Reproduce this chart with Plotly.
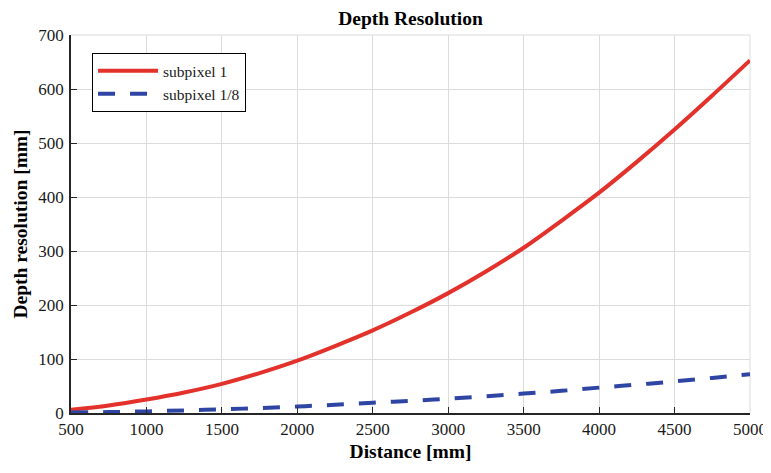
import plotly.graph_objects as go

distance = [500, 750, 1000, 1250, 1500, 1750, 2000, 2250, 2500, 2750, 3000,
            3250, 3500, 3750, 4000, 4250, 4500, 4750, 5000]
subpixel_1 = [6, 14, 25, 38, 54, 74, 97, 124, 153, 186, 222,
              262, 306, 356, 408, 465, 525, 588, 653]
subpixel_1_8 = [0.8, 1.7, 3, 4.8, 6.8, 9.2, 12, 15.3, 19, 22.5, 26.5,
                31, 36, 41, 47, 52.5, 58.5, 65, 72]
x_ticks = [500, 1000, 1500, 2000, 2500, 3000, 3500, 4000, 4500, 5000]
y_ticks = [0, 100, 200, 300, 400, 500, 600, 700]

font = "Liberation Serif, Times New Roman, serif"

fig = go.Figure()
fig.add_trace(go.Scatter(x=distance, y=subpixel_1, mode="lines", name="subpixel 1",
                         line=dict(color="#e3312b", width=4, shape="spline")))
fig.add_trace(go.Scatter(x=distance, y=subpixel_1_8, mode="lines", name="subpixel 1/8",
                         line=dict(color="#2f45a3", width=4, dash="17px,15px", shape="spline")))

fig.update_layout(
    width=763, height=465,
    margin=dict(l=63, r=21, t=27, b=60, autoexpand=False),
    paper_bgcolor="white", plot_bgcolor="white",
    font=dict(family=font, size=17, color="#1a1a1a"),
    title=dict(text="<b>Depth Resolution</b>", x=0.5, xref="paper", xanchor="center",
               yref="container", y=1.0, yanchor="top", pad=dict(t=3, b=0),
               font=dict(size=19.5, color="#000")),
    legend=dict(x=0.031, y=0.952, xanchor="left", yanchor="top",
                bordercolor="#000", borderwidth=1, bgcolor="white",
                font=dict(size=15.5, color="#1a1a1a"), tracegroupgap=0,
                itemwidth=60),
    showlegend=True,
)
fig.update_xaxes(range=[500, 5000], tickvals=x_ticks, ticktext=[str(v) for v in x_ticks],
                 showgrid=True, gridcolor="#dcdcdc", gridwidth=1,
                 showline=True, linecolor="#262626", linewidth=1.5,
                 ticks="inside", ticklen=6, tickcolor="#262626", zeroline=False,
                 automargin=False,
                 title=dict(text="<b>Distance [mm]</b>", standoff=6, font=dict(size=19.5, color="#000")))
fig.update_yaxes(range=[0, 700], tickvals=y_ticks, ticktext=[str(v) for v in y_ticks],
                 showgrid=True, gridcolor="#dcdcdc", gridwidth=1,
                 showline=True, linecolor="#262626", linewidth=1.5,
                 ticks="inside", ticklen=6, tickcolor="#262626", zeroline=False,
                 automargin=False, ticklabelstandoff=2,
                 title=dict(text="<b>Depth resolution [mm]</b>", standoff=6, font=dict(size=19.5, color="#000")))
fig.add_shape(type="line", xref="paper", yref="paper", x0=0, x1=1, y0=1, y1=1,
              line=dict(color="#dcdcdc", width=1), layer="below")
fig.add_shape(type="line", xref="paper", yref="paper", x0=1, x1=1, y0=0, y1=1,
              line=dict(color="#dcdcdc", width=1), layer="below")

fig.write_html("out.html")
